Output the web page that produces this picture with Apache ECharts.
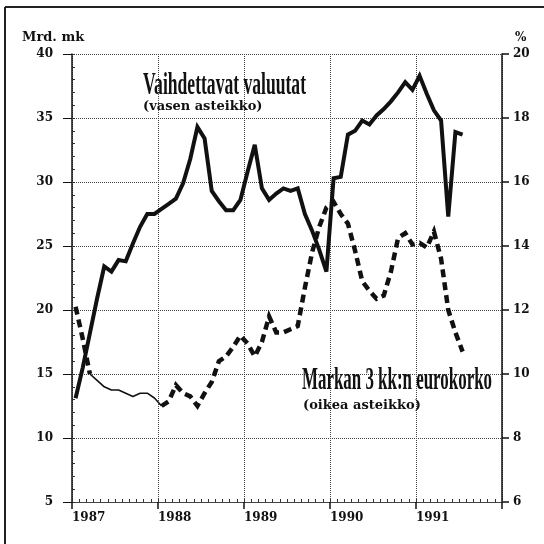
<!DOCTYPE html>
<html>
<head>
<meta charset="utf-8">
<script src="https://cdn.jsdelivr.net/npm/echarts@6/dist/echarts.min.js"></script>
<style>
  html, body { margin: 0; padding: 0; background: #fff; }
  #chart { width: 544px; height: 544px; }
</style>
</head>
<body>
<div id="chart"></div>
<script>
// Monthly series, starting January 1987
const startYear = 1987;
const yearTicks = [1987, 1988, 1989, 1990, 1991];

// Convertible currencies, billion markka (left scale)
const reserves = [
  13.1, 15.5, 18.2, 20.9, 23.4, 23.0, 23.9, 23.8, 25.2, 26.5, 27.5, 27.5,
  27.9, 28.3, 28.7, 29.9, 31.8, 34.3, 33.4, 29.3, 28.5, 27.8, 27.8, 28.6,
  30.8, 32.9, 29.5, 28.6, 29.1, 29.5, 29.3, 29.5, 27.5, 26.2, 24.7, 23.0,
  30.3, 30.4, 33.7, 34.0, 34.8, 34.5, 35.2, 35.7, 36.3, 37.0, 37.8, 37.2,
  38.3, 36.9, 35.6, 34.8, 27.3, 33.9, 33.7
];

// Markka 3-month euro rate, % (right scale)
const euroRate = [
  12.1, 11.1, 10.0, 9.8, 9.6, 9.5, 9.5, 9.4, 9.3, 9.4, 9.4, 9.25,
  9.0, 9.15, 9.65, 9.4, 9.3, 9.0, 9.4, 9.75, 10.4, 10.55, 10.85, 11.2,
  10.95, 10.55, 11.0, 11.8, 11.3, 11.3, 11.4, 11.5, 12.7, 13.8, 14.6, 15.2,
  15.38, 15.0, 14.7, 13.85, 12.9, 12.6, 12.35, 12.45, 13.2, 14.25, 14.4, 14.05,
  14.1, 13.95, 14.45, 13.6, 12.0, 11.3, 10.7
];

// Months of the rate series printed as a thin solid stroke
const thinFrom = 2, thinTo = 12;

const monthX = i => startYear + (i + 0.5) / 12;
const reservePts = reserves.map((v, i) => [monthX(i), v]);
const ratePtsDashed = euroRate.map((v, i) =>
  (i <= thinFrom || i >= thinTo) ? [monthX(i), v] : [monthX(i), null]);
const ratePtsThin = euroRate.map((v, i) =>
  (i >= thinFrom && i <= thinTo) ? [monthX(i), v] : [monthX(i), null]);

const ink = '#111';
const tickFont = { fontFamily: 'DejaVu Serif', fontWeight: 'bold', fontSize: 12, color: ink };

// Horizontal scale that fits a condensed title into a given width
function fitScale(text, font, width) {
  const ctx = document.createElement('canvas').getContext('2d');
  ctx.font = font;
  return width / ctx.measureText(text).width;
}
const titleFont = "bold 32px 'Liberation Serif'";
const title1 = 'Vaihdettavat valuutat';
const title2 = 'Markan 3 kk:n eurokorko';

const chart = echarts.init(document.getElementById('chart'), null, { renderer: 'canvas' });
chart.setOption({
  animation: false,
  backgroundColor: '#fff',
  grid: { left: 72, right: 42, top: 54, bottom: 42, containLabel: false, outerBoundsMode: 'none' },
  xAxis: [
    {
      type: 'value', min: 1987, max: 1992, interval: 1,
      axisLine: { show: true, lineStyle: { color: '#444', width: 1 } },
      axisTick: { show: true, length: 7, lineStyle: { color: ink, width: 1.5 } },
      axisLabel: {
        ...tickFont, align: 'left', margin: 10,
        formatter: v => (yearTicks.indexOf(v) >= 0 ? String(v) : '')
      },
      splitLine: { show: true, lineStyle: { color: '#444', type: 'dotted', width: 1 } }
    },
    {
      // monthly tick marks along the bottom
      type: 'value', min: 0, max: 60, interval: 1, position: 'bottom',
      axisLine: { show: false },
      axisTick: { show: true, inside: true, length: 3, lineStyle: { color: '#333', width: 1 } },
      axisLabel: { show: false },
      splitLine: { show: false }
    }
  ],
  yAxis: [
    {
      type: 'value', min: 5, max: 40, interval: 5, position: 'left',
      axisLine: { show: true, lineStyle: { color: ink, width: 1.5 } },
      axisTick: { show: true, length: 9, lineStyle: { color: ink, width: 1 } },
      axisLabel: { ...tickFont, margin: 19 },
      splitLine: { show: true, lineStyle: { color: '#444', type: 'dotted', width: 1 } }
    },
    {
      type: 'value', min: 6, max: 20, interval: 2, position: 'right',
      axisLine: { show: true, lineStyle: { color: ink, width: 1.5 } },
      axisTick: { show: true, length: 7, lineStyle: { color: ink, width: 1.5 } },
      axisLabel: { ...tickFont, margin: 11 },
      splitLine: { show: false }
    },
    {
      // unit tick marks inside the left scale
      type: 'value', min: 5, max: 40, interval: 1, position: 'left',
      axisLine: { show: false },
      axisTick: { show: true, inside: true, length: 3, lineStyle: { color: '#333', width: 1 } },
      axisLabel: { show: false },
      splitLine: { show: false }
    }
  ],
  series: [
    {
      name: 'Markan 3 kk:n eurokorko', type: 'line', xAxisIndex: 0, yAxisIndex: 1,
      data: ratePtsDashed, showSymbol: false, symbol: 'none', connectNulls: false,
      lineStyle: { color: ink, width: 4.5, type: [8, 5], cap: 'butt', join: 'miter' },
      z: 3
    },
    {
      name: 'Markan 3 kk:n eurokorko (ohut)', type: 'line', xAxisIndex: 0, yAxisIndex: 1,
      data: ratePtsThin, showSymbol: false, symbol: 'none', connectNulls: false,
      lineStyle: { color: ink, width: 1.6, join: 'round' },
      z: 3
    },
    {
      name: 'Vaihdettavat valuutat', type: 'line', xAxisIndex: 0, yAxisIndex: 0,
      data: reservePts, showSymbol: false, symbol: 'none',
      lineStyle: { color: ink, width: 4, join: 'miter', miterLimit: 3 },
      z: 4
    }
  ],
  graphic: [
    // frame
    { type: 'line', shape: { x1: 5, y1: 7, x2: 544, y2: 7 }, style: { stroke: '#222', lineWidth: 2 } },
    { type: 'line', shape: { x1: 5, y1: 7, x2: 5, y2: 544 }, style: { stroke: '#222', lineWidth: 2 } },
    // axis units
    { type: 'text', x: 22, y: 38, style: { text: 'Mrd. mk', font: "bold 13px 'DejaVu Serif'", fill: ink, verticalAlign: 'middle' } },
    { type: 'text', x: 515, y: 38, style: { text: '%', font: "bold 12px 'DejaVu Serif'", fill: ink, verticalAlign: 'middle' } },
    // series titles
    { type: 'text', x: 143, y: 86, scaleX: fitScale(title1, titleFont, 163), z: 10,
      style: { text: title1, font: titleFont, fill: ink, verticalAlign: 'middle' } },
    { type: 'text', x: 143, y: 107, z: 10,
      style: { text: '(vasen asteikko)', font: "bold 13px 'DejaVu Serif'", fill: ink, verticalAlign: 'middle' } },
    { type: 'text', x: 302, y: 381, scaleX: fitScale(title2, titleFont, 190), z: 10,
      style: { text: title2, font: titleFont, fill: ink, verticalAlign: 'middle' } },
    { type: 'text', x: 303, y: 406, z: 10,
      style: { text: '(oikea asteikko)', font: "bold 13px 'DejaVu Serif'", fill: ink, verticalAlign: 'middle' } }
  ]
});
</script>
</body>
</html>
